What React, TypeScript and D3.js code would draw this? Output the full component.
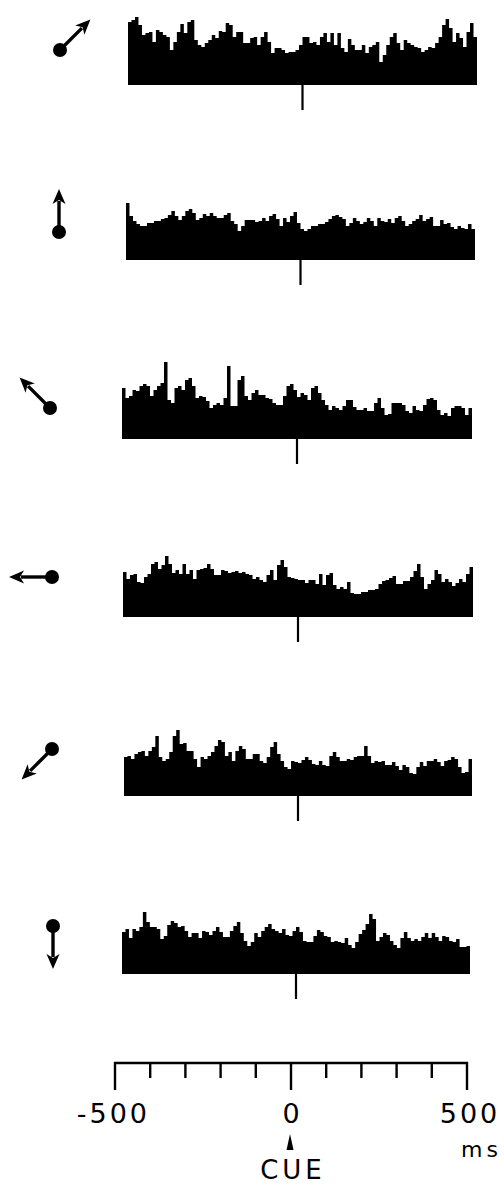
import React, { useEffect, useRef } from 'react';
import * as d3 from 'd3';

// movement directions (deg, counter-clockwise from right), one per histogram
const directions = [45, 90, 135, 180, 225, 270];

// 100 bins of 10 ms from -500 to +500 ms, rate
const rateUpRight = [
  63, 65, 68, 60, 50, 52, 53, 43, 55, 53, 50, 48, 35, 43, 53, 61, 52, 63, 65, 45,
  40, 38, 42, 45, 50, 47, 54, 53, 62, 60, 48, 53, 53, 42, 42, 47, 48, 40, 48, 53,
  43, 32, 37, 37, 35, 32, 33, 33, 35, 40, 48, 48, 42, 43, 40, 48, 52, 43, 52, 40,
  52, 37, 33, 46, 40, 35, 35, 40, 32, 38, 40, 43, 23, 30, 40, 48, 52, 42, 35, 45,
  42, 40, 38, 37, 33, 35, 38, 37, 42, 48, 60, 66, 57, 43, 52, 47, 38, 53, 62, 48,
];
const rateUp = [
  57, 44, 39, 36, 34, 34, 37, 37, 39, 39, 41, 42, 45, 49, 44, 40, 44, 49, 51, 47,
  40, 42, 46, 44, 47, 44, 42, 42, 45, 47, 39, 36, 29, 34, 40, 40, 40, 38, 39, 42,
  39, 44, 46, 41, 34, 42, 38, 44, 48, 37, 31, 29, 31, 34, 34, 36, 36, 38, 41, 44,
  45, 43, 41, 34, 37, 42, 39, 36, 38, 42, 39, 34, 42, 39, 38, 41, 37, 42, 44, 39,
  34, 36, 39, 41, 45, 39, 41, 43, 34, 34, 40, 36, 37, 33, 31, 34, 32, 31, 36, 31,
];
const rateUpLeft = [
  51, 41, 43, 49, 48, 53, 55, 53, 43, 49, 53, 56, 77, 39, 36, 51, 53, 49, 59, 61,
  53, 41, 43, 42, 38, 31, 34, 36, 34, 41, 73, 33, 33, 59, 63, 43, 39, 46, 49, 44,
  44, 41, 40, 36, 34, 34, 43, 53, 55, 49, 42, 46, 44, 39, 51, 53, 46, 39, 34, 29,
  33, 31, 29, 33, 39, 39, 32, 29, 29, 31, 28, 28, 36, 41, 31, 24, 25, 36, 36, 36,
  34, 28, 26, 33, 29, 28, 34, 40, 41, 39, 29, 24, 26, 23, 31, 33, 33, 31, 24, 31,
];
const rateLeft = [
  45, 38, 42, 43, 35, 34, 40, 43, 53, 55, 48, 52, 61, 53, 44, 47, 43, 53, 43, 47,
  38, 47, 48, 49, 53, 48, 42, 42, 47, 46, 44, 45, 46, 44, 45, 43, 42, 38, 40, 37,
  35, 42, 47, 37, 52, 57, 50, 40, 39, 38, 37, 37, 34, 37, 37, 33, 43, 32, 42, 44,
  32, 28, 30, 28, 35, 24, 23, 23, 25, 25, 27, 27, 28, 33, 36, 37, 39, 41, 33, 33,
  36, 36, 40, 46, 53, 40, 28, 33, 37, 47, 43, 35, 38, 35, 31, 34, 38, 35, 43, 50,
];
const rateDownLeft = [
  39, 40, 37, 42, 44, 45, 40, 45, 49, 60, 39, 35, 37, 44, 60, 66, 52, 53, 45, 45,
  37, 29, 39, 37, 40, 44, 50, 56, 54, 40, 44, 35, 45, 50, 47, 37, 37, 42, 42, 35,
  33, 39, 49, 54, 42, 35, 29, 27, 35, 34, 33, 36, 39, 36, 32, 31, 35, 31, 30, 40,
  44, 39, 35, 35, 37, 36, 39, 40, 40, 50, 40, 33, 35, 34, 35, 31, 31, 34, 30, 26,
  31, 29, 23, 22, 29, 34, 30, 35, 35, 37, 34, 30, 35, 36, 39, 37, 29, 23, 24, 37,
];
const rateDown = [
  42, 45, 36, 45, 43, 47, 62, 52, 47, 47, 45, 35, 38, 49, 53, 51, 47, 48, 43, 37,
  41, 41, 36, 43, 42, 39, 43, 47, 42, 37, 37, 43, 48, 52, 41, 33, 28, 32, 41, 37,
  43, 47, 50, 45, 43, 41, 45, 39, 38, 43, 47, 42, 33, 32, 32, 38, 44, 42, 38, 37,
  32, 33, 32, 31, 36, 29, 26, 32, 40, 44, 50, 60, 55, 33, 37, 41, 39, 33, 29, 26,
  36, 42, 36, 33, 35, 33, 37, 41, 36, 41, 37, 33, 38, 37, 33, 32, 35, 27, 27, 28,
];
const series = [rateUpRight, rateUp, rateUpLeft, rateLeft, rateDownLeft, rateDown];

const axisTicks = d3.range(-500, 501, 100);
const axisLabels = [-500, 0, 500];

// page layout: histogram left/right edge and baseline, arrow ball centre
const panels = [
  { x0: 128, x1: 477, base: 85, bx: 60, by: 50 },
  { x0: 126, x1: 475, base: 260, bx: 59, by: 232 },
  { x0: 122, x1: 472, base: 439, bx: 50, by: 408 },
  { x0: 123, x1: 473, base: 617, bx: 52, by: 577 },
  { x0: 124, x1: 472, base: 796, bx: 52, by: 749 },
  { x0: 122, x1: 470, base: 974, bx: 53, by: 926 },
];

const W = 504;
const H = 1186;
const FONT = 'DejaVu Sans, sans-serif';

export default function App() {
  const ref = useRef<SVGSVGElement | null>(null);

  useEffect(() => {
    const svg = d3.select(ref.current);
    svg.selectAll('*').remove();

    const binW = 1000 / 100;

    panels.forEach((p, k) => {
      const vals = series[k];
      const x = d3.scaleLinear().domain([-500, 500]).range([p.x0, p.x1]);
      const y = d3.scaleLinear().domain([0, 80]).range([p.base, p.base - 80]);
      const pts = vals.map((v, i) => [-500 + i * binW, v] as [number, number]);
      pts.push([500, vals[vals.length - 1]]);

      const area = d3
        .area<[number, number]>()
        .x((d) => x(d[0]))
        .y0(y(0))
        .y1((d) => y(d[1]))
        .curve(d3.curveStepAfter);

      svg.append('path').attr('d', area(pts)).attr('fill', '#000');

      // cue marker
      svg
        .append('line')
        .attr('x1', x(0))
        .attr('x2', x(0))
        .attr('y1', y(0))
        .attr('y2', y(0) + 25)
        .attr('stroke', '#000')
        .attr('stroke-width', 2.2);

      // direction icon: ball + arrow
      const a = (directions[k] * Math.PI) / 180;
      const len = 43;
      const dx = Math.cos(a);
      const dy = -Math.sin(a);
      const tx = p.bx + dx * len;
      const ty = p.by + dy * len;
      const hl = 15;
      const hw = 6.5;
      const baseX = tx - dx * hl;
      const baseY = ty - dy * hl;
      const g = svg.append('g');
      g.append('circle').attr('cx', p.bx).attr('cy', p.by).attr('r', 7).attr('fill', '#000');
      g.append('line')
        .attr('x1', p.bx)
        .attr('y1', p.by)
        .attr('x2', baseX + dx * 3)
        .attr('y2', baseY + dy * 3)
        .attr('stroke', '#000')
        .attr('stroke-width', 3.4);
      g.append('path')
        .attr(
          'd',
          `M${tx},${ty}L${baseX - dy * hw},${baseY + dx * hw}L${baseX + dx * 4},${baseY + dy * 4}L${baseX + dy * hw},${baseY - dx * hw}Z`,
        )
        .attr('fill', '#000');
    });

    // time axis
    const ax = d3.scaleLinear().domain([-500, 500]).range([115, 467]);
    const axY = 1063;
    const ag = svg.append('g');
    ag.append('line')
      .attr('x1', ax(-500) - 1)
      .attr('x2', ax(500) + 1)
      .attr('y1', axY)
      .attr('y2', axY)
      .attr('stroke', '#000')
      .attr('stroke-width', 2.6);
    ag.selectAll('line.tick')
      .data(axisTicks)
      .join('line')
      .attr('class', 'tick')
      .attr('x1', (d) => ax(d))
      .attr('x2', (d) => ax(d))
      .attr('y1', axY - 1)
      .attr('y2', (d) => (axisLabels.includes(d) ? axY + 27 : axY + 15))
      .attr('stroke', '#000')
      .attr('stroke-width', 2.4);

    ag.selectAll('text.lab')
      .data(axisLabels)
      .join('text')
      .attr('class', 'lab')
      .attr('x', (d) => (d === -500 ? 150 : d === 0 ? 292.5 : 470))
      .attr('y', 1123)
      .attr('text-anchor', (d) => (d === -500 ? 'end' : 'middle'))
      .attr('font-family', FONT)
      .attr('font-size', 27)
      .attr('letter-spacing', 3)
      .attr('fill', '#000')
      .text((d) => (d === -500 ? '-500' : String(d)));

    ag.append('text')
      .attr('x', 461)
      .attr('y', 1157)
      .attr('font-family', FONT)
      .attr('font-size', 22)
      .attr('letter-spacing', 4)
      .attr('fill', '#000')
      .text('ms');

    ag.append('path').attr('d', 'M290,1134L286.5,1150L293.5,1150Z').attr('fill', '#000');

    ag.append('text')
      .attr('x', 293)
      .attr('y', 1179)
      .attr('text-anchor', 'middle')
      .attr('font-family', FONT)
      .attr('font-size', 26)
      .attr('letter-spacing', 4)
      .attr('fill', '#000')
      .text('CUE');
  }, []);

  return (
    <svg
      ref={ref}
      width={W}
      height={H}
      style={{ position: 'absolute', left: 0, top: 0, background: '#fff' }}
    />
  );
}
